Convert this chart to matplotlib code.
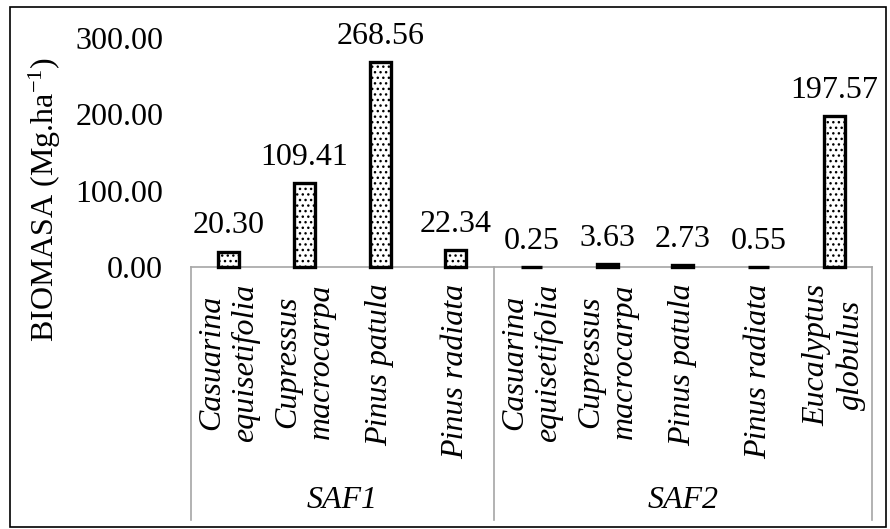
import matplotlib
matplotlib.use('Agg')
import matplotlib.pyplot as plt
from matplotlib.patches import Rectangle
from matplotlib.transforms import blended_transform_factory

plt.rcParams['font.family'] = ['Liberation Serif']
plt.rcParams['mathtext.fontset'] = 'custom'
plt.rcParams['mathtext.rm'] = 'Liberation Serif'
plt.rcParams['mathtext.it'] = 'Liberation Serif:italic'
plt.rcParams['hatch.linewidth'] = 1.0

species = ['Casuarina\nequisetifolia', 'Cupressus\nmacrocarpa', 'Pinus patula', 'Pinus radiata',
           'Casuarina\nequisetifolia', 'Cupressus\nmacrocarpa', 'Pinus patula', 'Pinus radiata',
           'Eucalyptus\nglobulus']
biomasa = [20.30, 109.41, 268.56, 22.34, 0.25, 3.63, 2.73, 0.55, 197.57]
groups = ['SAF1', 'SAF2']
group_sizes = [4, 5]

fs = 23
fig = plt.figure(figsize=(8.9, 5.29), dpi=100)
ax = fig.add_axes([191 / 890, 1 - 267 / 529, (872 - 191) / 890, (267 - 38) / 529])

x = list(range(len(biomasa)))
bars = ax.bar(x, biomasa, width=0.28, color='white', edgecolor='black', linewidth=2.4,
              hatch='...', zorder=3)
for b in bars:
    b.set_clip_on(False)
for xi, v in zip(x, biomasa):
    ax.annotate(f'{v:.2f}', (xi, v), xytext=(0, 13), textcoords='offset points',
                ha='center', va='baseline', fontsize=fs)

ax.set_xlim(-0.5, len(biomasa) - 0.5)
ax.set_ylim(0, 300)
ax.set_yticks([0, 100, 200, 300])
ax.set_yticklabels([f'{t:.2f}' for t in [0, 100, 200, 300]], fontsize=fs)
ax.tick_params(axis='y', length=0, pad=20)
ax.set_xticks([])
for s in ['top', 'right', 'left']:
    ax.spines[s].set_visible(False)
ax.spines['bottom'].set_color('#a6a6a6')
ax.spines['bottom'].set_linewidth(1.2)

# two-level category axis
trans = blended_transform_factory(ax.transData, ax.transAxes)
for xi, name in zip(x, species):
    ax.annotate(name, (xi, 0), xycoords=trans, xytext=(0, -12), textcoords='offset points',
                rotation=90, ha='center', va='top', multialignment='center',
                fontsize=fs, style='italic', annotation_clip=False)

bottom = -(520 - 267) / (267 - 38)
edges = [-0.5]
for n in group_sizes:
    edges.append(edges[-1] + n)
for e in edges:
    ax.plot([e, e], [0, bottom], transform=trans, color='#a6a6a6', lw=1.2, clip_on=False)
for g, a, b in zip(groups, edges[:-1], edges[1:]):
    ax.text((a + b) / 2, -(500 - 267) / (267 - 38), g, transform=trans, ha='center', va='center',
            fontsize=fs, style='italic')

fig.text(45 / 890, 1 - 200 / 529, r'BIOMASA (Mg.ha$^{\mathregular{-1}}$)', rotation=90,
         ha='center', va='center', fontsize=fs)

fig.patches.append(Rectangle((10 / 890, 2 / 529), 876 / 890, 520 / 529, transform=fig.transFigure,
                             fill=False, edgecolor='black', linewidth=1.2))

fig.savefig('out.png', dpi=100)
